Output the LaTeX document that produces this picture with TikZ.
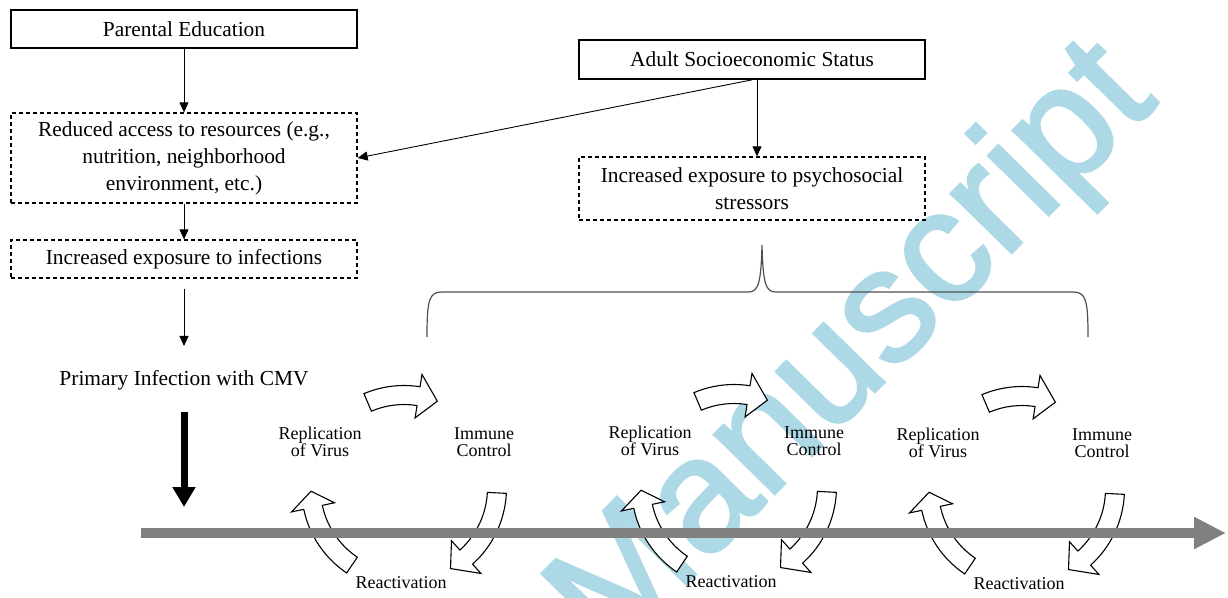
\documentclass[tikz,border=0pt]{standalone}
\usepackage{fontspec}
\setmainfont{Liberation Serif}
\newfontfamily\wmfont[FakeBold=1.8]{Liberation Sans}
\usetikzlibrary{arrows.meta}
\definecolor{wmblue}{RGB}{173,216,230}
\definecolor{tlgray}{RGB}{128,128,128}
\definecolor{bracegray}{RGB}{80,80,80}

\tikzset{
  mainfs/.style={font=\fontsize{21.4}{27}\selectfont},
  boxbase/.style={mainfs, minimum width=346pt, inner sep=0pt, align=center},
  solidbox/.style={boxbase, draw, line width=1.7pt},
  dashbox/.style={boxbase, draw, line width=1.3pt, dash pattern=on 4pt off 3pt},
  conn/.style={line width=0.9pt, -{Triangle[length=10pt,width=9pt]}},
  bigarrow/.style={line width=7pt, -{Triangle[length=20pt,width=22pt]}},
  timeline/.style={tlgray, line width=10pt, -{Triangle[length=32pt,width=30pt]}},
  cycarr/.style={draw=black, fill=white, line width=1.1pt, line join=miter},
  lbl/.style={font=\fontsize{18}{17}\selectfont, align=center, inner sep=0pt},
  bracestyle/.style={draw=bracegray, line width=1.2pt},
  watermark/.style={wmblue, font=\wmfont\fontsize{160}{160}\selectfont, rotate=45.5, inner sep=0pt}
}

% curved block arrow: #1 center, #2 start angle, #3 head-base angle, #4 tip angle, #5 radius
\newcommand\cycarrow[5]{%
  \pgfmathsetmacro\rOut{#5+9.5}\pgfmathsetmacro\rIn{#5-9.5}%
  \pgfmathsetmacro\hOut{#5+22}\pgfmathsetmacro\hIn{#5-22}%
  \begin{scope}[shift={(#1)}]
  \draw[cycarr] (#2:\rOut) arc[start angle=#2, end angle=#3, radius=\rOut]
     -- (#3:\hOut) -- (#4:#5) -- (#3:\hIn) -- (#3:\rIn)
     arc[start angle=#3, end angle=#2, radius=\rIn] -- cycle;
  \end{scope}}

% one replication cycle: #1 index, #2 x offset, #3 y offset
\newcommand\mycycle[3]{%
  \coordinate (cc#1) at (404+#2,-488+#3);
  \cycarrow{cc#1}{113}{81}{69}{93}
  \cycarrow{cc#1}{236}{192}{182}{93}
  \cycarrow{cc#1}{-3}{-48}{-60}{93}
  \node[lbl] (rep#1) at (320+#2,-442+#3) {Replication\\of Virus};
  \node[lbl] (imm#1) at (484+#2,-442+#3) {Immune\\Control};
  \node[lbl] (rea#1) at (401+#2,-583+#3) {Reactivation};
}

\begin{document}
\begin{tikzpicture}[x=1pt,y=1pt]
\useasboundingbox (0,0) rectangle (1228,-597);
\fill[white] (0,0) rectangle (1228,-597);
\clip (0,0) rectangle (1228,-597);

% watermark
\node[watermark] (wm) at (856,-352) {Manuscript};

% boxes
\node[solidbox, minimum height=38pt] (par) at (184,-29) {Parental Education};
\node[dashbox, minimum height=90pt] (res) at (184,-158) {Reduced access to resources (e.g.,\\nutrition, neighborhood\\environment, etc.)};
\node[dashbox, minimum height=38pt] (inf) at (184,-259) {Increased exposure to infections};
\node[solidbox, minimum height=39pt] (ses) at (752,-59.5) {Adult Socioeconomic Status};
\node[dashbox, minimum height=63pt] (psy) at (752,-188.5) {Increased exposure to psychosocial\\stressors};
\node[mainfs, inner sep=0pt] (prim) at (184,-380) {Primary Infection with CMV};

% connectors
\draw[conn] (par.south) -- (res.north);
\draw[conn] (res.south) -- (inf.north);
\draw[conn, shorten <=10pt, shorten >=24pt] (inf.south) -- (prim.north);
\draw[conn] (ses.south) -- (res.east);
\draw[conn] ([xshift=5pt]ses.south) -- ([xshift=5pt]psy.north);

% brace
\coordinate (brL) at (427,-337);
\coordinate (brR) at (1088,-337);
\coordinate (brT) at (762,-245);
\draw[bracestyle] (brL) .. controls (427,-300) and (429,-292) .. (442,-292)
  -- (748,-292) .. controls (758,-292) and (761,-285) .. (brT)
  .. controls (763,-285) and (766,-292) .. (776,-292)
  -- (1073,-292) .. controls (1086,-292) and (1088,-300) .. (brR);

% cycles
\mycycle{1}{0}{0}
\mycycle{2}{330}{1}
\mycycle{3}{618}{-1}

% time line and thick arrow
\coordinate (tl0) at (141,-533);
\coordinate (tl1) at (1226,-533);
\draw[timeline] (tl0) -- (tl1);
\coordinate (ba1) at (184,-507);
\draw[bigarrow, shorten <=22pt] (prim.south) -- (ba1);
\end{tikzpicture}
\end{document}
